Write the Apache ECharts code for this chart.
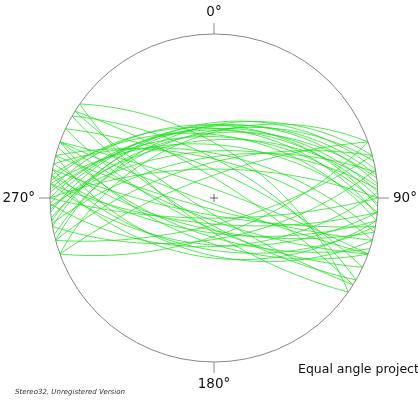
<!DOCTYPE html>
<html><head><meta charset="utf-8">
<script src="https://cdn.jsdelivr.net/npm/echarts@6/dist/echarts.min.js"></script>
<style>html,body{margin:0;padding:0;background:#fff}#c{width:418px;height:400px}</style>
</head><body><div id="c"></div>
<script>
// Planes: dip direction (deg) and dip (deg), read from the great circles
const dipDirections = [
  350,352,355,358,0,3,347,345,353,2,6,8,356,340,5,
  357,351,12,345,0,15,
  20,200,
  195,190,200,185,205,192,188,210,198,180,
  185,190,195,178,200,188,
  30,35,25,32,212,215,
  160,165,340,170
];
const dips = [
  41,43,42,44,45,42,46,43,47,49,44,48,51,48,54,
  58,62,60,66,70,64,
  84,86,
  82,78,75,72,70,68,66,73,64,76,
  58,55,52,57,60,50,
  66,58,72,78,80,70,
  65,72,75,62
];
const directionLabels = ['0°','90°','180°','270°'];
const projectionName = 'Equal angle projection';
const footerText = 'Stereo32, Unregistered Version';

const d2r = Math.PI/180;
function greatCircle(dd, dip){
  const s = (dd-90)*d2r, a = dd*d2r, b = dip*d2r;
  const S = [Math.cos(s), Math.sin(s), 0];
  const D = [Math.cos(b)*Math.cos(a), Math.cos(b)*Math.sin(a), Math.sin(b)];
  const pts = [];
  for(let t=0;t<=180;t+=2){
    const c=Math.cos(t*d2r), n=Math.sin(t*d2r);
    const v=[c*S[0]+n*D[0], c*S[1]+n*D[1], c*S[2]+n*D[2]];
    const plunge=Math.asin(Math.max(-1,Math.min(1,v[2])));
    let trend=Math.atan2(v[1],v[0])/d2r; if(trend<0) trend+=360;
    const r=Math.tan((Math.PI/2-plunge)/2);
    pts.push([r, trend]);
  }
  return pts;
}
const series = dipDirections.map((dd,i)=>({
  type:'line', coordinateSystem:'polar', data:greatCircle(dd,dips[i]),
  showSymbol:false, silent:true, animation:false,
  lineStyle:{color:'#1ee01e', width:0.9, opacity:0.85}
}));
series.push({
  type:'scatter', coordinateSystem:'polar', data:[[0,0]], silent:true, animation:false,
  symbol:'path://M5,0L5,10M0,5L10,5', symbolSize:8,
  itemStyle:{color:'rgba(0,0,0,0)', borderColor:'#444', borderWidth:1}
});
const chart = echarts.init(document.getElementById('c'), null, {renderer:'canvas'});
chart.setOption({
  backgroundColor:'#fff',
  animation:false,
  polar:{center:[214,198], radius:164},
  angleAxis:{type:'value', min:0, max:360, interval:90, startAngle:90, clockwise:true,
    axisLine:{lineStyle:{color:'#888', width:1}},
    axisTick:{show:true, inside:false, length:11, lineStyle:{color:'#888'}},
    axisLabel:{margin:15, color:'#111', fontSize:13.5, fontFamily:'DejaVu Sans',
      formatter:function(v){return directionLabels[Math.round(v/90)%4];}},
    splitLine:{show:false}},
  radiusAxis:{type:'value', min:0, max:1, show:false, axisLine:{show:false}, splitLine:{show:false}, axisTick:{show:false}, axisLabel:{show:false}},
  series:series,
  graphic:[
    {type:'text', left:298, top:363, style:{text:projectionName, fill:'#111', font:'12.5px "DejaVu Sans"'}},
    {type:'text', left:15, top:389, style:{text:footerText, fill:'#333', font:'italic 7px "DejaVu Sans"'}}
  ]
});
</script></body></html>
